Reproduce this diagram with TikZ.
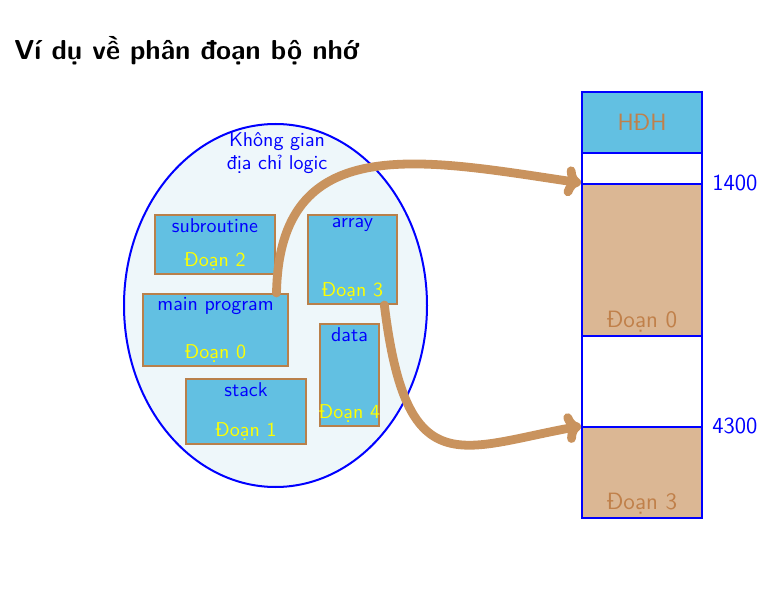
\documentclass[tikz,border=0pt]{standalone}
\usepackage{fontspec}
\usepackage{tikz}
\usetikzlibrary{calc,arrows.meta,shapes.geometric}
\definecolor{addrblue}{HTML}{0000FF}
\definecolor{segfill}{HTML}{62C0E2}
\definecolor{segline}{HTML}{B9804A}
\definecolor{segyellow}{HTML}{FFFF00}
\definecolor{memtan}{HTML}{DBB794}
\definecolor{memtext}{HTML}{C0804A}
\definecolor{mapline}{HTML}{C9935E}
\definecolor{spacebg}{HTML}{EEF7FA}
\tikzset{
  lspace/.style={ellipse, draw=addrblue, fill=spacebg, line width=1pt, inner sep=0pt},
  seg/.style={draw=segline, fill=segfill, line width=1pt, inner sep=0pt},
  segname/.style={anchor=north, text=addrblue, font=\sffamily\fontsize{10}{12}\selectfont, inner sep=2pt},
  segno/.style={anchor=south, text=segyellow, font=\sffamily\fontsize{10}{12}\selectfont, inner sep=2pt},
  mem/.style={draw=addrblue, line width=1pt, minimum width=60pt, inner sep=0pt},
  memlab/.style={text=memtext, font=\sffamily\fontsize{11.8}{14}\selectfont},
  addr/.style={anchor=west, text=addrblue, font=\sffamily\fontsize{11.5}{13}\selectfont, inner sep=4.5pt},
  map/.style={draw=mapline, line width=4.4pt, line cap=round, -{To[length=8pt,width=15pt,round]}},
}

\begin{document}
\begin{tikzpicture}[x=0.5pt, y=-0.5pt]
  \useasboundingbox (0,0) rectangle (782,593);
  \node[anchor=base west, inner sep=0pt, font=\sffamily\bfseries\fontsize{13.7}{16}\selectfont] (title) at (14,60) {Ví dụ về phân đoạn bộ nhớ};
  % logical address space
  \node[lspace, minimum width=151.5pt, minimum height=181.5pt] (space) at (275.5,305.5) {};
  \node[align=center, text=addrblue, font=\sffamily\fontsize{10}{11.5}\selectfont] (spacename) at (277,153) {Không gian\\địa chỉ logic};
  \node[seg, minimum width=60pt, minimum height=29.5pt,
    label={[segname]north:subroutine}, label={[segno]south:Đoạn 2}] (sub) at (215,244.5) {};
  \node[seg, minimum width=72.5pt, minimum height=36pt,
    label={[segname]north:main program}, label={[segno]south:Đoạn 0}] (main) at (215.5,330) {};
  \node[seg, minimum width=44.5pt, minimum height=44.5pt,
    label={[segname]north:array}, label={[segno]south:Đoạn 3}] (array) at (352.5,259.5) {};
  \node[seg, minimum width=29.5pt, minimum height=51pt,
    label={[segname]north:data}, label={[segno]south:Đoạn 4}] (data) at (349.5,375) {};
  \node[seg, minimum width=60pt, minimum height=32.5pt,
    label={[segname]north:stack}, label={[segno]south:Đoạn 1}] (stack) at (246,411.5) {};
  % physical memory
  \node[mem, fill=segfill, minimum height=30.5pt] (os) at (642,122.5) {};
  \node[memlab] at (os) {HĐH};
  \node[mem, fill=white, minimum height=15.5pt] (free1) at (642,168.5) {};
  \node[mem, fill=memtan, minimum height=76pt,
    label={[memlab, anchor=south, inner sep=2pt]south:Đoạn 0}] (mem0) at (642,260) {};
  \node[mem, fill=white, minimum height=45.5pt] (free2) at (642,381.5) {};
  \node[mem, fill=memtan, minimum height=45.5pt,
    label={[memlab, anchor=south, inner sep=2pt]south:Đoạn 3}] (mem3) at (642,472.5) {};
  \node[addr] (a1400) at (mem0.north east) {1400};
  \node[addr] (a4300) at (mem3.north east) {4300};
  % mapping
  \draw[map] ($(main.north)!0.83!(main.north east)$) .. controls +(3,-163) and +(-161,-24) .. (mem0.north west);
  \draw[map] ($(array.south)!0.7!(array.south east)$) .. controls +(22,180) and +(-121,22) .. (mem3.north west);
\end{tikzpicture}
\end{document}
